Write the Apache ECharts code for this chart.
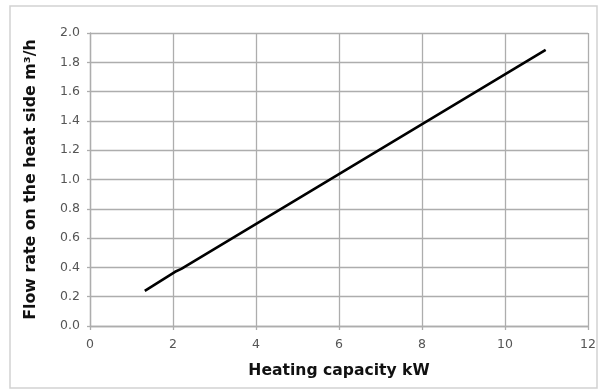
<!DOCTYPE html>
<html>
<head>
<meta charset="utf-8">
<script src="https://cdn.jsdelivr.net/npm/echarts@6/dist/echarts.min.js"></script>
<style>
  html, body { margin: 0; padding: 0; background: #fff; }
  #chart { width: 605px; height: 392px; }
</style>
</head>
<body>
<div id="chart"></div>
<script>
// Flow rate against heating capacity
const heatingCapacity = [1.32, 2.05, 2.2, 10.98];
const flowRate = [0.24, 0.37, 0.39, 1.885];
const xTicks = [0, 2, 4, 6, 8, 10, 12];
const yTicks = [0.0, 0.2, 0.4, 0.6, 0.8, 1.0, 1.2, 1.4, 1.6, 1.8, 2.0];

const gridColor = '#adadad';
const font = 'DejaVu Sans';

const chart = echarts.init(document.getElementById('chart'), null, { renderer: 'canvas' });

chart.setOption({
  animation: false,
  backgroundColor: '#fff',
  graphic: [{
    type: 'rect',
    shape: { x: 10, y: 6, width: 587, height: 382 },
    style: { fill: 'none', stroke: '#d2d2d2', lineWidth: 1.5 },
    silent: true
  }],
  grid: { left: 90, top: 33, right: 17, bottom: 66 },
  xAxis: {
    type: 'value',
    min: xTicks[0],
    max: xTicks[xTicks.length - 1],
    interval: 2,
    name: 'Heating capacity kW',
    nameLocation: 'middle',
    nameGap: 37,
    nameTextStyle: { fontFamily: font, fontWeight: 'bold', fontSize: 15.6, color: '#111' },
    axisLine: { show: true, lineStyle: { color: gridColor, width: 1.3 } },
    axisTick: { show: true, length: 4, lineStyle: { color: gridColor, width: 1.3 } },
    axisLabel: { margin: 12, fontFamily: font, fontSize: 12.5, color: '#555' },
    splitLine: { show: true, lineStyle: { color: gridColor, width: 1.3 } }
  },
  yAxis: {
    type: 'value',
    min: yTicks[0],
    max: yTicks[yTicks.length - 1],
    interval: 0.2,
    name: 'Flow rate on the heat side m³/h',
    nameLocation: 'middle',
    nameGap: 51,
    nameTextStyle: { fontFamily: font, fontWeight: 'bold', fontSize: 15.8, color: '#111' },
    axisLine: { show: true, lineStyle: { color: gridColor, width: 1.3 } },
    axisTick: { show: true, length: 3, lineStyle: { color: gridColor, width: 1.3 } },
    axisLabel: {
      margin: 10, fontFamily: font, fontSize: 12.5, color: '#555',
      formatter: v => v.toFixed(1)
    },
    splitLine: { show: true, lineStyle: { color: gridColor, width: 1.3 } }
  },
  series: [{
    type: 'line',
    data: heatingCapacity.map((x, i) => [x, flowRate[i]]),
    showSymbol: false,
    lineStyle: { color: '#000', width: 2.6 }
  }]
});
</script>
</body>
</html>
